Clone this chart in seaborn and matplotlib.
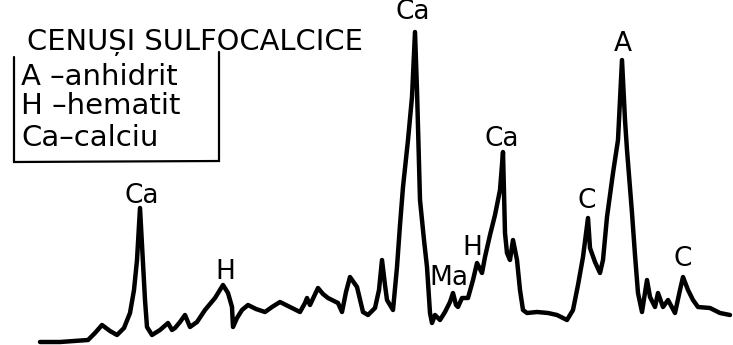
import matplotlib
matplotlib.use("Agg")
import matplotlib.pyplot as plt
import seaborn as sns
import pandas as pd

# Diffractogram trace of sulfocalcic ash: scan position vs. recorded intensity
scan_pos = [40, 60, 88, 95, 102, 110, 117, 124, 130, 134, 137, 140, 143, 145, 147,
            152, 160, 168, 172, 175, 180, 185, 190, 197, 205, 215, 223, 228, 232,
            233, 237, 242, 248, 256, 265, 272, 280, 290, 300, 305, 307, 310, 318,
            323, 328, 338, 342, 346, 350, 357, 363, 368, 375, 379, 382, 385, 387,
            393, 397, 400, 403, 408, 412, 415, 417, 420, 424, 427, 430, 432, 435,
            440, 445, 450, 453, 456, 458, 462, 468, 473, 477, 482, 485, 490, 495,
            500, 503, 505, 507, 510, 513, 517, 520, 523, 527, 537, 548, 557, 567,
            573, 578, 583, 588, 590, 595, 600, 603, 607, 613, 618, 622, 625, 627,
            632, 635, 638, 642, 647, 650, 655, 658, 663, 668, 675, 680, 683, 688,
            693, 698, 710, 720, 730]
trace_px = [342, 342, 340, 333, 325, 331, 335, 328, 313, 290, 260, 208, 262, 300, 327,
            335, 330, 323, 330, 328, 322, 315, 327, 322, 310, 298, 285, 293, 307,
            327, 318, 310, 305, 309, 312, 307, 302, 307, 312, 303, 298, 305, 288,
            294, 298, 303, 312, 292, 277, 287, 312, 315, 308, 290, 260, 285, 300,
            310, 267, 225, 187, 140, 97, 32, 90, 200, 240, 267, 313, 323, 315,
            320, 312, 302, 293, 305, 307, 298, 298, 280, 263, 273, 257, 235, 215,
            190, 152, 233, 253, 260, 240, 260, 290, 310, 313, 312, 313, 315, 320,
            310, 285, 257, 218, 248, 262, 273, 260, 217, 173, 140, 60, 120, 150,
            213, 255, 293, 312, 280, 297, 307, 293, 307, 300, 313, 290, 277, 290,
            300, 307, 308, 313, 315]
FRAME_H = 345
intensity = [FRAME_H - v for v in trace_px]

# Phase labels above the identified reflections
peak_labels = ["Ca", "H", "Ca", "Ma", "H", "Ca", "C", "A", "C"]
peak_pos = [142, 225, 413, 449, 472, 502, 587, 623, 683]
peak_top = [149, 73, 333, 67, 97, 206, 144, 301, 86]

legend_title = "CENUȘI SULFOCALCICE"
legend_rows = ["A –anhidrit", "H –hematit", "Ca–calciu"]

W, H = 733, 345
fig = plt.figure(figsize=(W / 100, H / 100), dpi=100)
sns.set_style("white")
plt.rcParams["font.family"] = ["DejaVu Sans"]
ax = fig.add_axes([0, 0, 1, 1])

df = pd.DataFrame({"pos": scan_pos, "I": intensity})
sns.lineplot(data=df, x="pos", y="I", ax=ax, color="black", linewidth=3.2,
             sort=False, estimator=None, solid_joinstyle="round",
             solid_capstyle="round")

ax.set_xlim(0, W)
ax.set_ylim(0, H)
ax.axis("off")

for lab, x, y in zip(peak_labels, peak_pos, peak_top):
    ax.text(x, y, lab, ha="center", va="center", fontsize=19, color="black")

# Legend block: title, entries and open-top frame
ax.text(27, H - 42, legend_title, ha="left", va="center", fontsize=20.8,
        color="black")
row_y = [H - 77, H - 106, H - 138]
for txt, y in zip(legend_rows, row_y):
    ax.text(21, y, txt, ha="left", va="center", fontsize=21, color="black")
ax.plot([14, 14, 219, 219], [H - 57, H - 162, H - 161, H - 52],
        color="black", linewidth=1.6, solid_joinstyle="miter")

fig.savefig("out.png", dpi=100, facecolor="white")
